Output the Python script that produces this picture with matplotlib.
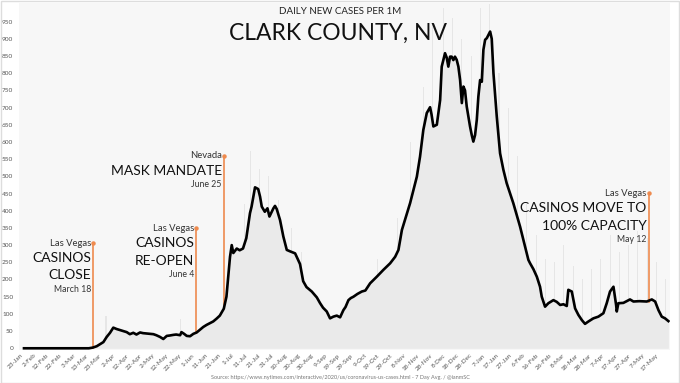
import numpy as np
import pandas as pd
import matplotlib.pyplot as plt
import matplotlib.dates as mdates
from matplotlib.patches import Rectangle

plt.rcParams['font.family'] = ['Lato', 'DejaVu Sans']

# ---------------- data ----------------
start = pd.Timestamp('2020-01-23')

# 7-day average, new cases per 1M (day offset from 23-Jan-2020, value)
avg_days = [3, 20, 40, 52, 55, 58, 60.5, 63, 65.5, 68, 70.5, 73, 75.6, 78, 80.6, 83, 85.6, 88,
            90.7, 93, 95.8, 98, 100.8, 103, 105.8, 108.3, 110.9, 113, 115.9, 118, 121, 122,
            124, 126, 128.5, 131, 133.5, 136, 138.5, 141, 143.5, 146, 148.5, 151, 154, 156,
            158.7, 160, 161.2, 163.8, 166, 168.5, 171, 173.8, 175, 177.6, 180, 181.4, 182.7,
            185, 187, 188.5, 191.5, 192.7, 194, 196.5, 199, 201.6, 204, 207.9, 211.6, 214,
            216.5, 220.5, 224.3, 226.8, 229, 231.8, 234.3, 236.8, 239.4, 241.9, 244.4, 246,
            248.2, 250, 252, 255, 258.3, 261, 264.6, 269.6, 274.6, 279.7, 283.5, 286, 288.6,
            294.8, 299.9, 302.3, 304.8, 307.4, 309.9, 311, 312.4, 315, 317.5, 318.7, 321.2,
            322.5, 323.7, 325, 326.2, 327.5, 328.7, 330, 331.3, 332.6, 333.9, 335.1, 336.3,
            337.6, 340.1, 341.4, 342.6, 343.9, 345.2, 346.4, 347.7, 349, 350.2, 351.5, 352.8,
            355.3, 356.5, 357.8, 360.3, 362.8, 365.3, 367.8, 372.8, 377.9, 381.7, 384.2,
            385.5, 388, 390.6, 393, 394.3, 396.8, 399.3, 403.1, 405.6, 408.2, 410.7, 413.2,
            414.4, 417, 419.5, 422, 424.6, 427, 429.6, 433.3, 437.1, 440.9, 443.4, 445.9,
            448.5, 450.5, 451, 452.2, 456, 461, 463.6, 468, 473.7, 477.5, 480, 482.5, 485,
            487.5, 490]
avg_values = [0, 0, 0, 0, 2, 6, 12, 18, 33, 45, 60, 56, 53, 50, 47, 41, 45, 40,
              46, 44, 43, 42, 41, 38, 33, 27, 36, 37, 39, 40, 38, 47,
              42, 36, 35, 42, 46, 54, 62, 68, 73, 78, 86, 95, 115, 150,
              266, 300, 277, 290, 285, 290, 320, 393, 412, 468, 463, 441, 412,
              397, 407, 383, 407, 414, 405, 373, 325, 286, 282, 276, 245, 195,
              178, 165, 148, 131, 118, 107, 87, 92, 95, 90, 111, 120,
              140, 146, 150, 158, 165, 168, 189, 208, 228, 247, 266, 286, 344,
              422, 499, 557, 635, 684, 701, 680, 645, 650, 722, 819, 858,
              845, 819, 848, 848, 838, 848, 839, 819, 780, 713, 761, 750,
              703, 645, 620, 601, 620, 664, 732, 780, 775, 868, 897, 902,
              921, 900, 800, 674, 567, 519, 480, 422, 354, 296, 257,
              247, 230, 208, 179, 150, 121, 131, 140, 135, 126, 128, 123,
              170, 165, 116, 97, 82, 71, 78, 87, 92, 102, 131, 165,
              179, 126, 107, 131, 132, 142, 136, 137, 136, 142, 136, 111, 92,
              87, 79]

# daily reported values that stick out above the average
spike_days = [65, 121, 170, 174, 181, 188, 195, 205, 213, 270, 285, 295, 305, 312, 320,
              327, 334, 341, 348, 355, 362, 369, 376, 383, 390, 397, 404, 411, 418, 425,
              432, 439, 446, 453, 460, 467, 474, 481, 488]
spike_values = [95, 85, 420, 575, 520, 500, 430, 350, 280, 260, 380, 600, 760, 940, 990,
                960, 900, 850, 990, 1000, 800, 700, 560, 420, 330, 260, 250, 300, 240, 200,
                230, 260, 330, 280, 300, 340, 320, 250, 200]

# annotations: date, top of marker, bottom of marker, small header, big lines, date label
events = [
    ('2020-03-18', 306, 2, 'Las Vegas', ['CASINOS', 'CLOSE'], 'March 18'),
    ('2020-06-04', 349, 45, 'Las Vegas', ['CASINOS', 'RE-OPEN'], 'June 4'),
    ('2020-06-25', 560, 125, 'Nevada', ['MASK MANDATE'], 'June 25'),
    ('2021-05-12', 451, 136, 'Las Vegas', ['CASINOS MOVE TO', '100% CAPACITY'], 'May 12'),
]

avg_dates = start + pd.to_timedelta(avg_days, unit='D')
spike_dates = start + pd.to_timedelta(spike_days, unit='D')
tick_dates = pd.date_range(start, periods=49, freq='10D')

# ---------------- figure ----------------
fig = plt.figure(figsize=(6.8, 3.83), dpi=100)
fig.patch.set_facecolor('white')
fig.add_artist(Rectangle((0.001, 0.001), 0.998, 0.997, transform=fig.transFigure,
                         fill=False, edgecolor='#dddddd', linewidth=1))
ax = fig.add_axes([18.7 / 680, 33 / 383, 651 / 680, 347 / 383])
ax.set_facecolor('#f7f7f7')

ax.bar(spike_dates, spike_values, width=0.8, color='#e6e6e6', zorder=1)
ax.fill_between(avg_dates, 0, avg_values, color='#eaeaea', lw=0, zorder=1)
ax.plot(avg_dates, avg_values, color='black', lw=1.9, zorder=4, solid_joinstyle='round')

orange = '#ee8a4e'
for d, top, bottom, head, big, sub in events:
    x = pd.Timestamp(d)
    ax.plot([x, x], [bottom, top], color=orange, lw=1.2, zorder=3)
    ax.plot([x], [top], 'o', color=orange, ms=2.2, zorder=3)
    xt = x - pd.Timedelta(days=1.5)
    ax.text(xt, top, head, ha='right', va='center', fontsize=6.8, color='#333333')
    y = top - 44
    for line in big:
        ax.text(xt, y, line, ha='right', va='center', fontsize=10, color='#111111')
        y -= 50
    ax.text(xt, y + 10, sub, ha='right', va='center', fontsize=6.3, color='#333333')

ax.set_xlim(start - pd.Timedelta(days=1), start + pd.Timedelta(days=491))
ax.set_ylim(-5, 1004)
ax.set_yticks(np.arange(0, 951, 50))
ax.set_xticks(tick_dates)
ax.xaxis.set_major_formatter(mdates.DateFormatter('%-d-%b'))
ax.tick_params(axis='x', labelsize=4.6, colors='#555555', length=0, pad=2, labelrotation=45)
ax.tick_params(axis='y', labelsize=4.6, colors='#555555', length=0, pad=4)
for lab in ax.get_xticklabels():
    lab.set_ha('right')
    lab.set_rotation_mode('anchor')
for s in ax.spines.values():
    s.set_visible(False)

fig.text(340 / 680, 1 - 12 / 383, 'DAILY NEW CASES PER 1M', ha='center', va='center',
         fontsize=7, color='#222222')
fig.text(338 / 680, 1 - 33 / 383, 'CLARK COUNTY, NV', ha='center', va='center',
         fontsize=16.5, color='#111111')
fig.text(340 / 680, 1 - 378 / 383,
         'Source: https://www.nytimes.com/interactive/2020/us/coronavirus-us-cases.html - 7 Day Avg. / @ianmSC',
         ha='center', va='center', fontsize=4, color='#777777')

fig.savefig('out.png', dpi=100)
